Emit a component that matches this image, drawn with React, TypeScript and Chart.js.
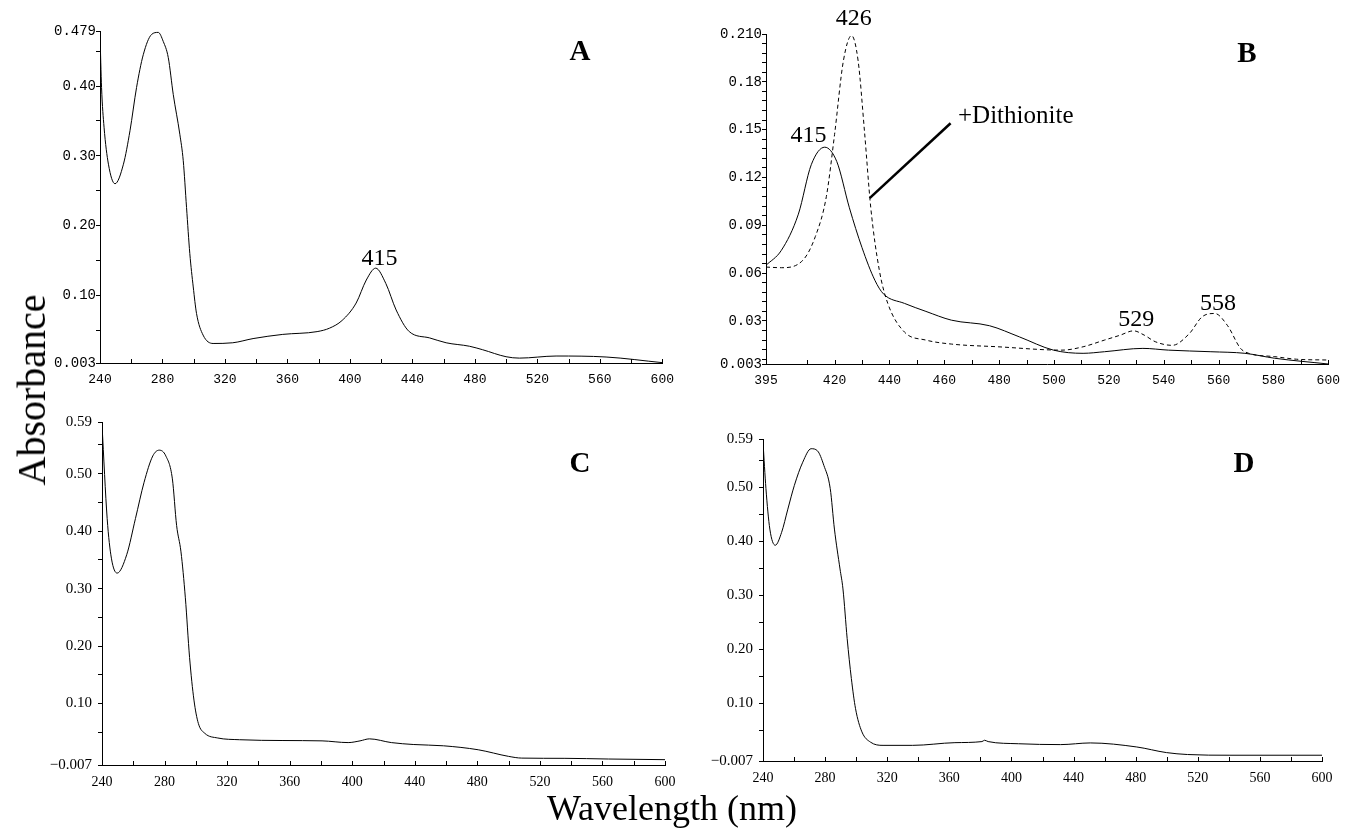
import React, { useEffect, useRef } from "react";
import { Chart, registerables } from "chart.js";

Chart.register(...registerables);

// ---------- Panel A ----------
const wavelengthA = [240, 241, 242.6, 245.4, 249.6, 255, 259.2, 263.4, 267.7, 273, 277.3, 280.5, 283.7, 286.9, 291.1, 293.3, 295.4, 297.5, 299.7, 301.8, 306, 312.4, 325, 338, 357, 379, 387, 395, 404, 410.5, 416.5, 423, 429.6, 438, 451, 461.6, 476.6, 485, 500, 508.5, 532, 564, 600];
const absorbanceA = [0.474, 0.398, 0.341, 0.288, 0.26, 0.288, 0.336, 0.398, 0.445, 0.474, 0.477, 0.464, 0.441, 0.388, 0.331, 0.293, 0.226, 0.16, 0.112, 0.074, 0.043, 0.031, 0.032, 0.038, 0.044, 0.048, 0.053, 0.064, 0.089, 0.122, 0.139, 0.117, 0.079, 0.048, 0.039, 0.032, 0.027, 0.022, 0.012, 0.01, 0.013, 0.0116, 0.0035];

// ---------- Panel B ----------
const wavelengthBOx = [395, 400.6, 406.8, 411.5, 416.4, 420.8, 425.4, 430, 434.7, 437.8, 445.5, 453.3, 462.6, 476.5, 487.4, 499.8, 510.6, 518.4, 532.4, 541.7, 557.2, 569.6, 580.5, 600];
const absorbanceBOx = [0.0649, 0.0743, 0.097, 0.128, 0.139, 0.13, 0.101, 0.076, 0.0555, 0.047, 0.041, 0.036, 0.0305, 0.027, 0.02, 0.0117, 0.0097, 0.0107, 0.0128, 0.0117, 0.0107, 0.0097, 0.0066, 0.003];
const wavelengthBRed = [395, 400.6, 408.4, 413, 417, 420, 423.2, 426.2, 428.6, 430.9, 433.2, 436.3, 439.4, 445.5, 453.3, 462.6, 479.6, 502.9, 510.6, 518.4, 524, 529, 533, 536.9, 543.1, 549.3, 554, 558.6, 563.3, 568, 571, 580.5, 588.4, 600];
const absorbanceBRed = [0.0638, 0.0634, 0.068, 0.083, 0.108, 0.147, 0.193, 0.209, 0.193, 0.149, 0.101, 0.062, 0.041, 0.023, 0.018, 0.0155, 0.0138, 0.0117, 0.0138, 0.018, 0.021, 0.0238, 0.021, 0.017, 0.0147, 0.022, 0.0326, 0.0347, 0.027, 0.0128, 0.0097, 0.0076, 0.006, 0.0055];

// ---------- Panel C ----------
const wavelengthC = [240, 243.3, 246, 249.7, 255.8, 261.4, 266.9, 272.5, 276.6, 280.8, 285, 287.7, 290.5, 293.3, 296, 298.8, 301.6, 305.8, 314, 328, 355.7, 380.7, 397.4, 405, 411, 425, 439, 458.4, 480.6, 500, 508.4, 536, 563.9, 600];
const absorbanceC = [0.585, 0.422, 0.353, 0.327, 0.359, 0.422, 0.485, 0.531, 0.541, 0.531, 0.491, 0.41, 0.364, 0.284, 0.18, 0.106, 0.0655, 0.048, 0.04, 0.037, 0.0356, 0.035, 0.032, 0.035, 0.0385, 0.032, 0.0287, 0.0264, 0.0195, 0.008, 0.005, 0.0046, 0.0034, 0.0023];

// ---------- Panel D ----------
const wavelengthD = [240, 241.9, 244.4, 247.9, 252, 256, 260.2, 265.6, 271, 275.1, 279.2, 283.3, 286, 289.6, 291.5, 294.2, 296.9, 299.6, 303.7, 309.2, 317.3, 336.4, 363.6, 381, 382.7, 385, 404.5, 431.7, 450.8, 480.7, 499.8, 513.4, 540.7, 600];
const absorbanceD = [0.584, 0.498, 0.423, 0.393, 0.417, 0.46, 0.504, 0.547, 0.572, 0.568, 0.541, 0.498, 0.423, 0.349, 0.312, 0.22, 0.146, 0.09, 0.047, 0.028, 0.022, 0.022, 0.027, 0.029, 0.0315, 0.029, 0.025, 0.0234, 0.0265, 0.019, 0.0086, 0.005, 0.0037, 0.0037];

// ---------- Ticks ----------
const xTicksFull = [240, 260, 280, 300, 320, 340, 360, 380, 400, 420, 440, 460, 480, 500, 520, 540, 560, 580, 600];
const xLabelsFull = [240, 280, 320, 360, 400, 440, 480, 520, 560, 600];
const xTicksB = [395, 410, 420, 430, 440, 450, 460, 470, 480, 490, 500, 510, 520, 530, 540, 550, 560, 570, 580, 590, 600];
const xLabelsB = [395, 420, 440, 460, 480, 500, 520, 540, 560, 580, 600];
const yTicksA = [0.003, 0.05, 0.1, 0.15, 0.2, 0.25, 0.3, 0.35, 0.4, 0.45, 0.479];
const yLabelsA: Record<string, string> = { "0.003": "0.003", "0.1": "0.10", "0.2": "0.20", "0.3": "0.30", "0.4": "0.40", "0.479": "0.479" };
const yTicksB = [0.003, 0.006, 0.012, 0.018, 0.024, 0.03, 0.036, 0.042, 0.048, 0.054, 0.06, 0.066, 0.072, 0.078, 0.084, 0.09, 0.096, 0.102, 0.108, 0.114, 0.12, 0.126, 0.132, 0.138, 0.144, 0.15, 0.156, 0.162, 0.168, 0.174, 0.18, 0.186, 0.192, 0.198, 0.204, 0.21];
const yLabelsB: Record<string, string> = { "0.003": "0.003", "0.03": "0.03", "0.06": "0.06", "0.09": "0.09", "0.12": "0.12", "0.15": "0.15", "0.18": "0.18", "0.21": "0.210" };
const yTicksCD = [-0.007, 0.05, 0.1, 0.15, 0.2, 0.25, 0.3, 0.35, 0.4, 0.45, 0.5, 0.55, 0.59];
const yLabelsCD: Record<string, string> = { "-0.007": "\u22120.007", "0.1": "0.10", "0.2": "0.20", "0.3": "0.30", "0.4": "0.40", "0.5": "0.50", "0.59": "0.59" };

type Ann =
  | { type: "text"; x: number; y: number; text: string; font: string; align?: CanvasTextAlign }
  | { type: "line"; x1: number; y1: number; x2: number; y2: number; width: number };

const annotationsA: Ann[] = [
  { type: "text", x: 419, y: 0.153, text: "415", font: "24px 'Liberation Serif'" },
];
const annotationsB: Ann[] = [
  { type: "text", x: 427, y: 0.2195, text: "426", font: "24px 'Liberation Serif'" },
  { type: "text", x: 410.5, y: 0.146, text: "415", font: "24px 'Liberation Serif'" },
  { type: "text", x: 530, y: 0.0305, text: "529", font: "24px 'Liberation Serif'" },
  { type: "text", x: 559.8, y: 0.041, text: "558", font: "24px 'Liberation Serif'" },
  { type: "line", x1: 432.8, y1: 0.107, x2: 462.3, y2: 0.154, width: 2.5 },
  { type: "text", x: 465, y: 0.1586, text: "+Dithionite", font: "25px 'Liberation Serif'", align: "left" },
];

const fmt = (v: number) => String(Math.round(v * 1000) / 1000);

interface Series { xs: number[]; ys: number[]; dash?: number[] }
interface PanelProps {
  left: number; top: number; width: number; height: number;
  series: Series[];
  xMin: number; xMax: number; xTicks: number[]; xLabels: number[];
  yMin: number; yMax: number; yTicks: number[]; yLabels: Record<string, string>;
  xFont: { family: string; size: number };
  yFont: { family: string; size: number };
  yPad: number;
  annotations?: Ann[];
}

function Panel(p: PanelProps) {
  const ref = useRef<HTMLCanvasElement>(null);
  useEffect(() => {
    if (!ref.current) return;
    const innerTicks = {
      id: "innerTicks",
      afterDraw(chart: any) {
        const { ctx, chartArea } = chart;
        const x = chart.scales.x;
        ctx.save();
        ctx.strokeStyle = "#000";
        ctx.lineWidth = 1;
        x.ticks.forEach((t: any) => {
          const px = Math.round(x.getPixelForValue(t.value)) + 0.5;
          ctx.beginPath();
          ctx.moveTo(px, chartArea.bottom);
          ctx.lineTo(px, chartArea.bottom - 4);
          ctx.stroke();
        });
        ctx.restore();
      },
    };
    const annot = {
      id: "annot",
      afterDatasetsDraw(chart: any) {
        const { ctx } = chart;
        const x = chart.scales.x, y = chart.scales.y;
        ctx.save();
        ctx.fillStyle = "#000";
        ctx.strokeStyle = "#000";
        for (const a of p.annotations || []) {
          if (a.type === "text") {
            ctx.font = a.font;
            ctx.textAlign = a.align || "center";
            ctx.textBaseline = "middle";
            ctx.fillText(a.text, x.getPixelForValue(a.x), y.getPixelForValue(a.y));
          } else {
            ctx.lineWidth = a.width;
            ctx.beginPath();
            ctx.moveTo(x.getPixelForValue(a.x1), y.getPixelForValue(a.y1));
            ctx.lineTo(x.getPixelForValue(a.x2), y.getPixelForValue(a.y2));
            ctx.stroke();
          }
        }
        ctx.restore();
      },
    };
    const chart = new Chart(ref.current, {
      type: "line",
      data: {
        datasets: p.series.map((s) => ({
          data: s.xs.map((x, i) => ({ x, y: s.ys[i] })),
          borderColor: "#000",
          borderWidth: 1,
          borderDash: s.dash || [],
          pointRadius: 0,
          fill: false,
          cubicInterpolationMode: "monotone" as const,
        })),
      },
      options: {
        responsive: false,
        animation: false,
        events: [],
        layout: { padding: { left: 0, top: 30, right: 20, bottom: 0 } },
        plugins: { legend: { display: false }, tooltip: { enabled: false } },
        scales: {
          x: {
            type: "linear",
            min: p.xMin,
            max: p.xMax,
            afterBuildTicks: (axis: any) => { axis.ticks = p.xTicks.map((v) => ({ value: v })); },
            afterFit: (axis: any) => { axis.height = 30; },
            grid: { display: true, drawOnChartArea: false, drawTicks: false },
            border: { display: true, color: "#000", width: 1 },
            ticks: {
              autoSkip: false,
              maxRotation: 0,
              padding: 9,
              color: "#000",
              font: p.xFont,
              callback: (v: any) => (p.xLabels.includes(Number(v)) ? String(v) : ""),
            },
          },
          y: {
            type: "linear",
            min: p.yMin,
            max: p.yMax,
            afterBuildTicks: (axis: any) => { axis.ticks = p.yTicks.map((v) => ({ value: v })); },
            afterFit: (axis: any) => { axis.width = 70; },
            grid: { display: true, drawOnChartArea: false, drawTicks: true, tickLength: 4, color: "#000" },
            border: { display: true, color: "#000", width: 1 },
            ticks: {
              autoSkip: false,
              padding: p.yPad,
              color: "#000",
              font: p.yFont,
              callback: (v: any) => p.yLabels[fmt(Number(v))] || "",
            },
          },
        },
      },
      plugins: [innerTicks, annot],
    });
    return () => chart.destroy();
  }, []);
  return (
    <canvas
      ref={ref}
      width={p.width}
      height={p.height}
      style={{ position: "absolute", left: p.left, top: p.top, width: p.width, height: p.height }}
    />
  );
}

const letterStyle = (x: number, y: number): React.CSSProperties => ({
  position: "absolute",
  left: x,
  top: y,
  transform: "translate(-50%, -50%)",
  font: "bold 29px 'Liberation Serif'",
  lineHeight: 1,
  color: "#000",
});

export default function App() {
  const monoX = { family: "Liberation Mono", size: 13 };
  const monoY = { family: "Liberation Mono", size: 14 };
  const serifX = { family: "Liberation Serif", size: 14 };
  const serifY = { family: "Liberation Serif", size: 15 };
  return (
    <div style={{ position: "absolute", left: 0, top: 0, width: 1346, height: 831, overflow: "hidden", background: "#fff" }}>
      <Panel
        left={30} top={1} width={653} height={392}
        series={[{ xs: wavelengthA, ys: absorbanceA }]}
        xMin={240} xMax={600} xTicks={xTicksFull} xLabels={xLabelsFull}
        yMin={0.003} yMax={0.479} yTicks={yTicksA} yLabels={yLabelsA}
        xFont={monoX} yFont={monoY} yPad={0}
        annotations={annotationsA}
      />
      <Panel
        left={696} top={4} width={653} height={390}
        series={[
          { xs: wavelengthBOx, ys: absorbanceBOx },
          { xs: wavelengthBRed, ys: absorbanceBRed, dash: [4, 3] },
        ]}
        xMin={395} xMax={600} xTicks={xTicksB} xLabels={xLabelsB}
        yMin={0.003} yMax={0.21} yTicks={yTicksB} yLabels={yLabelsB}
        xFont={monoX} yFont={monoY} yPad={0}
        annotations={annotationsB}
      />
      <Panel
        left={32} top={392} width={653} height={403}
        series={[{ xs: wavelengthC, ys: absorbanceC }]}
        xMin={240} xMax={600} xTicks={xTicksFull} xLabels={xLabelsFull}
        yMin={-0.007} yMax={0.59} yTicks={yTicksCD} yLabels={yLabelsCD}
        xFont={serifX} yFont={serifY} yPad={6}
      />
      <Panel
        left={693} top={409} width={649} height={382}
        series={[{ xs: wavelengthD, ys: absorbanceD }]}
        xMin={240} xMax={600} xTicks={xTicksFull} xLabels={xLabelsFull}
        yMin={-0.007} yMax={0.59} yTicks={yTicksCD} yLabels={yLabelsCD}
        xFont={serifX} yFont={serifY} yPad={6}
      />
      <div style={letterStyle(580, 50)}>A</div>
      <div style={letterStyle(1247, 52)}>B</div>
      <div style={letterStyle(580, 462)}>C</div>
      <div style={letterStyle(1244, 462)}>D</div>
      <div
        style={{
          position: "absolute", left: 32, top: 390,
          transform: "translate(-50%, -50%) rotate(-90deg)",
          font: "40px 'Liberation Serif'", lineHeight: 1, whiteSpace: "nowrap", color: "#000",
        }}
      >
        Absorbance
      </div>
      <div
        style={{
          position: "absolute", left: 672, top: 808,
          transform: "translate(-50%, -50%)",
          font: "36px 'Liberation Serif'", lineHeight: 1, whiteSpace: "nowrap", color: "#000",
        }}
      >
        Wavelength (nm)
      </div>
    </div>
  );
}
